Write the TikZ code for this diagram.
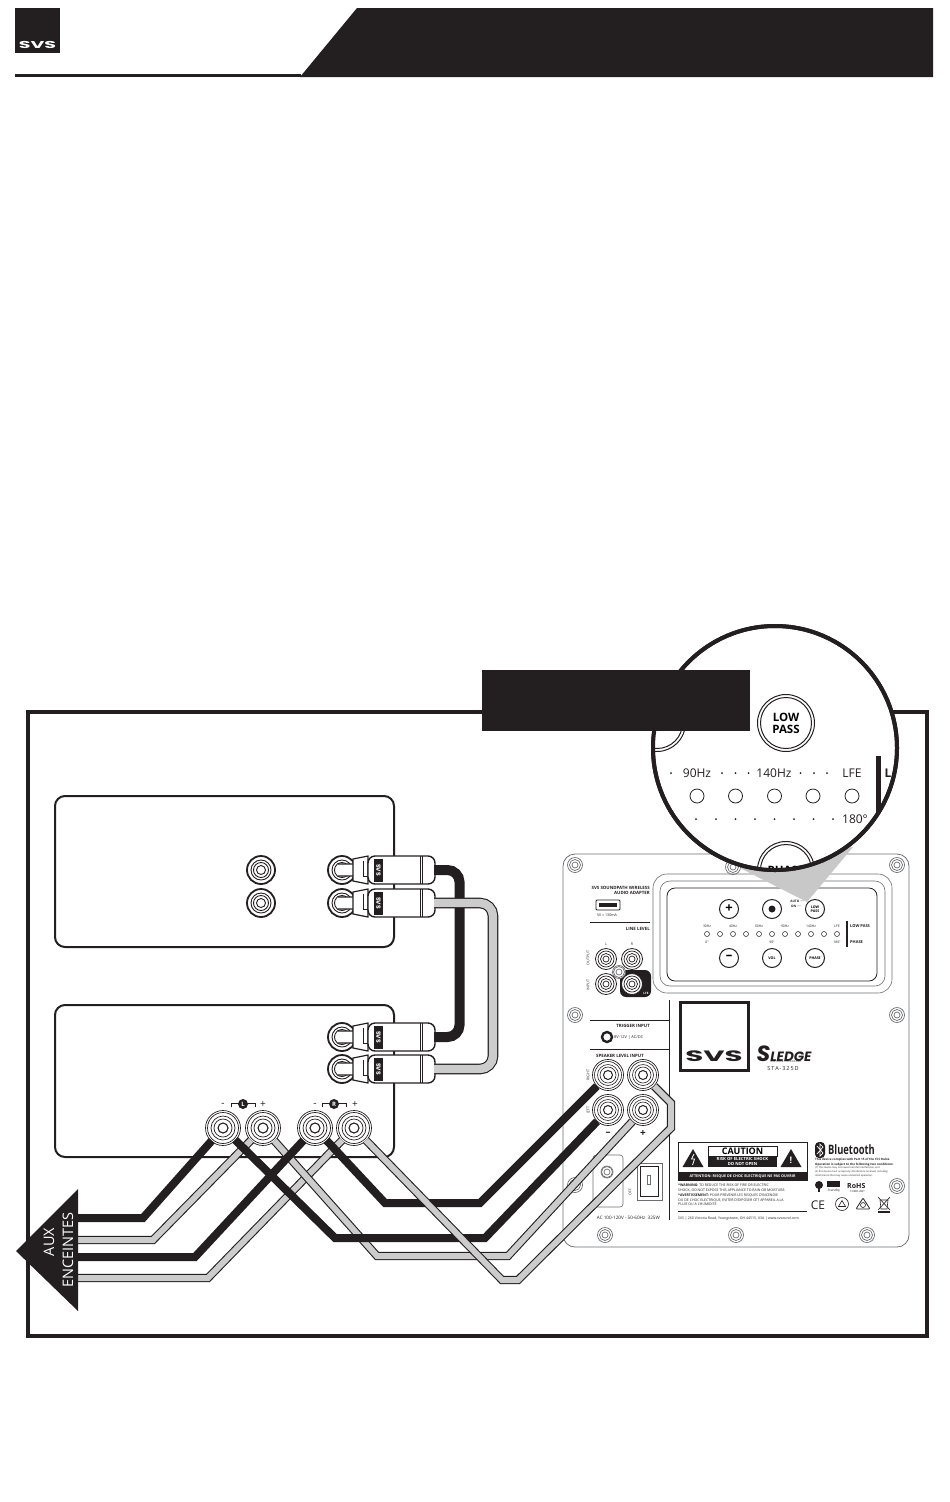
\documentclass[tikz,border=0pt]{standalone}
\usepackage{fontspec}
\setmainfont{Open Sans}
\newfontfamily\logofont{Poppins}
\definecolor{ink}{HTML}{231F20}
\definecolor{cablegray}{HTML}{CCCCCC}
\definecolor{wedgegray}{HTML}{C8C8C8}
\definecolor{panelline}{HTML}{6D6E71}
\tikzset{
    lbl/.style={inner sep=0pt, text=ink, font=\fontsize{#1}{#1}\selectfont},
    blbl/.style={inner sep=0pt, text=ink, font=\fontsize{#1}{#1}\selectfont\bfseries},
    rcaplug/.pic={
        \draw[ink, line width=1.2pt, fill=white, rounded corners=3pt] (-5,-6) -- (14,-6) -- (14,6) -- (-5,6);
        \draw[ink, line width=1.2pt, fill=white] (11,-11) -- (26,-14) -- (26,14) -- (11,11) -- cycle;
        \draw[ink, line width=.8pt] (21,-9) -- (21,6) -- (26,6);
        \draw[ink, line width=1.4pt, fill=white, rounded corners=7pt] (26,-14) -- (93,-14) -- (93,14) -- (26,14) -- cycle;
        \draw[ink, line width=.8pt] (78,-14) -- (78,14) (80,-14) -- (80,14);
        \node[tagbox, rotate=-90] (-tag) at (36.5,0) {SVS};
        \coordinate (-tail) at (92,0);
    }
}
\begin{document}
\begin{tikzpicture}[
    x=1pt,
    y=-1pt,
    box/.style={draw=ink, line width=2pt, rounded corners=10pt},
    tagbox/.style={fill=ink, text=white, minimum width=23pt, minimum height=9pt, inner sep=0pt,
        font=\logofont\bfseries\fontsize{6}{6}\selectfont},
    lens/.style={circle, draw=ink, line width=4pt, fill=white, minimum size=244pt, inner sep=0pt},
    jack/.style={circle, draw=ink, fill=white, line width=1.8pt, minimum size=28pt, inner sep=0pt,
        path picture={\draw[ink, line width=.9pt] (path picture bounding box.center) circle (10pt) circle (7.5pt) circle (4.5pt);}},
    smalljack/.style={circle, draw=ink, fill=white, line width=.8pt, minimum size=21pt, inner sep=0pt,
        path picture={\draw[ink, line width=.7pt] (path picture bounding box.center) circle (8pt) circle (5.5pt) circle (3pt);}},
    post/.style={circle, draw=ink, fill=white, line width=.7pt, minimum size=35pt, inner sep=0pt,
        path picture={\draw[ink, line width=.7pt] (path picture bounding box.center) circle (15.5pt) circle (12pt) circle (9pt);
            \draw[ink, line width=1.1pt] (path picture bounding box.center) circle (5pt);}},
    smallpost/.style={post, minimum size=31pt,
        path picture={\draw[ink, line width=.6pt] (path picture bounding box.center) circle (13.5pt) circle (10.5pt) circle (8pt);
            \draw[ink, line width=1pt] (path picture bounding box.center) circle (4.5pt);}},
    screw/.style={circle, draw=panelline, fill=white, line width=.7pt, minimum size=15pt, inner sep=0pt,
        path picture={\draw[panelline, line width=.7pt] (path picture bounding box.center) circle (5.5pt) circle (3pt);}},
    btn/.style={circle, draw=ink, fill=white, line width=1pt, minimum size=19pt, inner sep=0pt,
        font=\bfseries\fontsize{3.6}{3.8}\selectfont, align=center},
    bigbtn/.style={circle, draw=ink, fill=white, line width=1pt, minimum size=57pt, inner sep=0pt,
        font=\bfseries\fontsize{11.5}{12}\selectfont, align=center,
        path picture={\draw[ink, line width=1pt] (path picture bounding box.center) circle (25.5pt);}},
    led/.style={circle, draw=ink, line width=.5pt, fill=white, minimum size=5pt, inner sep=0pt},
    bigled/.style={circle, draw=ink, line width=.8pt, fill=white, minimum size=14pt, inner sep=0pt},
    blackcable/.style={draw=ink, line width=8pt},
    graycable/.style={draw=ink, line width=1.1pt, double=cablegray, double distance=6pt},
    stubend/.style={shorten <=-1pt}
]
    \useasboundingbox (0,0) rectangle (950,1502);

    % --- Header ---
    \fill[ink] (15,8) rectangle (60,53);
    \node[blbl=12, text=white, xscale=1.9, font=\logofont\bfseries\fontsize{10}{10}\selectfont] (logotext) at (37.5,45) {SVS};
    \fill[ink] (300,77) -- (357,8) -- (933,8) -- (933,77) -- cycle;
    \fill[ink] (15,74) rectangle (301,77);

    % --- Frame ---
    \draw[ink, line width=4pt] (28,712) rectangle (927,1336);

    % --- Speaker boxes ---
    \draw[box] (55,796) rectangle (394,947);
    \draw[box] (55,1005) rectangle (394,1157);

    % --- Subwoofer panel ---
    \draw[panelline, line width=.8pt, rounded corners=12pt] (563,854) rectangle (909,1247);
    \draw[ink, line width=1pt] (669,1000) -- (669,1220);
    \draw[ink, line width=.8pt] (590,1020) -- (669,1020);
    \draw[ink, line width=.8pt] (590,1049) -- (669,1049);
    \draw[ink, line width=.8pt] (590,922) -- (650,922);
    \node[screw] (screwa) at (575,865) {};
    \node[screw] (screwb) at (733,867) {};
    \node[screw] (screwc) at (897,865) {};
    \node[screw] (screwd) at (575,1015) {};
    \node[screw] (screwe) at (897,1015) {};
    \node[screw] (screwf) at (575,1185) {};
    \node[screw] (screwg) at (897,1186) {};
    \node[screw] (screwh) at (605,1235) {};
    \node[screw] (screwi) at (736,1235) {};
    \node[screw] (screwj) at (867,1235) {};

    % --- Control panel ---
    \draw[panelline, line width=.6pt, rounded corners=14pt] (653,874) rectangle (892,993);
    \draw[panelline, line width=.6pt, rounded corners=10pt] (660,881) rectangle (885,986);
    \draw[ink, line width=.8pt, rounded corners=8pt] (667,888) rectangle (877,981);
    \fill[wedgegray] (740,868) -- (807,902) -- (853,847) -- cycle;
    \node[btn, font=\bfseries\fontsize{13}{13}\selectfont] (plus) at (729,909) {+};
    \node[btn] (dotbtn) at (772,909) {};
    \fill[ink] (dotbtn.center) circle (3.5);
    \node[btn] (lowpass) at (815,909) {LOW\\PASS};
    \node[btn, font=\bfseries\fontsize{13}{13}\selectfont] (minus) at (729,958) {\raisebox{.5pt}{–}};
    \node[btn] (vol) at (772,958) {VOL};
    \node[btn] (phase) at (815,958) {PHASE};
    \node[blbl=3.2, anchor=east] (autotxt) at (804,901) {AUTO ····};
    \node[blbl=3.2, anchor=east] (ontxt) at (801,906) {ON ····};
    \node[lbl=3.4] (hza) at (707,926) {30Hz};
    \node[lbl=3.4] (hzb) at (733,926) {40Hz};
    \node[lbl=3.4] (hzc) at (759,926) {60Hz};
    \node[lbl=3.4] (hzd) at (785,926) {90Hz};
    \node[lbl=3.4] (hze) at (811,926) {140Hz};
    \node[lbl=3.4] (hzf) at (837,926) {LFE};
    \node[led] (leda) at (707,934) {};
    \node[led] (ledb) at (720,934) {};
    \node[led] (ledc) at (733,934) {};
    \node[led] (ledd) at (746,934) {};
    \node[led] (lede) at (759,934) {};
    \node[led] (ledf) at (772,934) {};
    \node[led] (ledg) at (785,934) {};
    \node[led] (ledh) at (798,934) {};
    \node[led] (ledi) at (811,934) {};
    \node[led] (ledj) at (824,934) {};
    \node[led] (ledk) at (837,934) {};
    \node[lbl=3.4] (pha) at (707,942) {0°};
    \node[lbl=3.4] (phb) at (772,942) {90°};
    \node[lbl=3.4] (phc) at (837,942) {180°};
    \draw[ink, line width=1.6pt] (847,921) -- (847,947);
    \node[blbl=4, anchor=west] (lowtxt) at (850,926) {LOW PASS};
    \node[blbl=4, anchor=west] (phtxt) at (850,942) {PHASE};

    % --- Left column of the panel ---
    \node[blbl=4.4, anchor=east, align=right] (adapter) at (650,890.5) {SVS SOUNDPATH WIRELESS\\AUDIO ADAPTER};
    \draw[ink, line width=.8pt, rounded corners=1pt, fill=white] (596,900) rectangle (620,910);
    \fill[ink] (599,903) rectangle (617,907);
    \node[lbl=3.6] (usbtxt) at (607,915) {5V = 130mA};
    \node[blbl=4.4, anchor=east] (linelevel) at (650,929) {LINE LEVEL};
    \node[lbl=3.6] (ltxt) at (606,944) {L};
    \node[lbl=3.6] (rtxt) at (632,944) {R};
    \node[lbl=3.6, rotate=90] (outtxt) at (588,958) {OUTPUT};
    \node[lbl=3.6, rotate=90] (intxt) at (588,985) {INPUT};
    \fill[ink, rounded corners=6pt] (620,970) rectangle (651,997);
    \node[screw, minimum size=13pt] (screwk) at (619,972) {};
    \node[smalljack] (outl) at (606,959) {};
    \node[smalljack] (outr) at (632,959) {};
    \node[smalljack] (inl) at (606,984) {};
    \node[smalljack] (lfe) at (632,984) {};
    \node[blbl=3, text=white] (lfetxt) at (646,993) {LFE};
    \node[blbl=4.4, anchor=east] (trigger) at (650,1026) {TRIGGER INPUT};
    \node[circle, draw=ink, line width=2.4pt, fill=white, minimum size=10pt, inner sep=0pt] (trigjack) at (607,1037) {};
    \node[lbl=4, anchor=west] (trigtxt) at (614,1037) {8V-12V | AC/DC};
    \node[blbl=4.4] (spktxt) at (620,1056) {SPEAKER LEVEL INPUT};
    \node[lbl=3.6, rotate=90] (righttxt) at (588,1075) {RIGHT};
    \node[lbl=3.6, rotate=90] (lefttxt) at (588,1110) {LEFT};
    \node[blbl=10] (minustxt) at (608,1134) {–};
    \node[blbl=10] (plustxt) at (643,1134) {+};
    \draw[panelline, line width=.6pt, rounded corners=3pt] (593,1155) rectangle (623,1207);
    \node[screw, minimum size=12pt] (inlet) at (607,1172) {};
    \draw[panelline, line width=.6pt] (637,1163) rectangle (662,1200);
    \draw[ink, line width=.9pt] (640,1166) rectangle (658,1196);
    \draw[panelline, line width=.6pt] (647,1175) rectangle (650,1184);
    \node[lbl=3.6, rotate=90] (offtxt) at (630,1192) {OFF};
    \node[lbl=4.6, anchor=east] (mains) at (660,1218) {AC 100-120V - 50-60Hz~~325W};

    % --- Logo ---
    \draw[ink, line width=3pt] (680,1002) rectangle (748,1070);
    \node[blbl=12, xscale=1.95, font=\logofont\bfseries\fontsize{15}{15}\selectfont] (bigsvs) at (714,1056) {SVS};
    \node[blbl=12, font=\logofont\bfseries\itshape\fontsize{13.5}{13.5}\selectfont] (sledge) at (784,1053.5) {{\fontsize{22}{22}\selectfont S}LEDGE};
    \node[lbl=2.6] (amptxt) at (786,1061.5) {AMPLIFIER TECHNOLOGY};
    \node[lbl=5.5] (stabel) at (783,1069) {S\,T\,A\,-\,3\,2\,5\,D};

    % --- Caution block ---
    \draw[ink, line width=1pt] (678,1142) rectangle (807,1180);
    \fill[ink] (678,1172) rectangle (807,1180);
    \node[draw=ink, line width=.7pt, minimum width=69pt, minimum height=10pt, inner sep=0pt,
        font=\bfseries\fontsize{9}{9}\selectfont] (cautionhead) at (742.5,1151) {CAUTION};
    \node[fill=ink, text=white, minimum width=69pt, minimum height=11pt, inner sep=0pt, align=center,
        font=\bfseries\fontsize{4.2}{4.8}\selectfont] (cautionsub) at (742.5,1161.5) {RISK OF ELECTRIC SHOCK\\DO NOT OPEN};
    \fill[ink] (693,1149) -- (703.5,1167) -- (682.5,1167) -- cycle;
    \draw[white, line width=.8pt] (694,1154) -- (691.5,1159) -- (694.5,1159) -- (692.5,1165);
    \fill[ink] (791,1149) -- (801.5,1167) -- (780.5,1167) -- cycle;
    \node[blbl=9, text=white] (bang) at (791,1160.5) {!};
    \node[blbl=3.7, text=white] (attn) at (742.5,1176) {ATTENTION: RISQUE DE CHOC ELECTRIQUE NE PAS OUVRIR};
    \node[lbl=3.5, anchor=north west, align=left] (warn) at (678,1184)
        {\textbf{*WARNING:} TO REDUCE THE RISK OF FIRE OR ELECTRIC\\[1pt]SHOCK, DO NOT EXPOSE THIS APPLIANCE TO RAIN OR MOISTURE.};
    \node[lbl=3.5, anchor=north west, align=left] (avert) at (678,1194)
        {\textbf{*AVERTISSEMENT:} POUR PREVENIR LES RISQUES D'INCENDIE\\[.8pt]OU DE CHOC ELECTRIQUE, EVITER D'EXPOSER CET APPAREIL A LA\\[.8pt]PLUIE OU A L'HUMIDITE.};
    \draw[ink, line width=.6pt] (678,1211) -- (807,1211);
    \node[lbl=3.5, anchor=west] (addr) at (678,1218.5) {SVS | 260 Victoria Road, Youngstown, OH 44515, USA | www.svsound.com};

    % --- Bluetooth and marks ---
    \fill[ink, rounded corners=4pt] (815,1142) rectangle (825,1158);
    \draw[white, line width=.7pt] (817,1146) -- (823,1153) -- (820,1156) -- (820,1144) -- (823,1147) -- (817,1154);
    \node[blbl=13, anchor=west, xscale=.72] (bluetxt) at (828,1150) {Bluetooth};
    \node[blbl=3, anchor=north west, align=left] (fcca) at (815,1158)
        {This device complies with Part 15 of the FCC Rules.\\[.8pt]Operation is subject to the following two conditions:};
    \node[lbl=2.5, anchor=north west, align=left] (fccb) at (815,1166)
        {(1) This device may not cause harmful interference, and\\[.6pt](2) this device must accept any interference received, including\\[.6pt]interference that may cause undesired operation.};
    \fill[ink] (819,1185) circle (4);
    \fill[ink] (818,1188) rectangle (820,1192);
    \fill[ink] (827,1181) rectangle (840,1187);
    \node[lbl=3.2] (standby) at (834,1190.5) {Standby};
    \node[blbl=7, anchor=west] (rohs) at (847,1186) {RoHS};
    \node[lbl=2.6, anchor=west] (compliant) at (850,1191.5) {COMPLIANT};
    \node[lbl=12] (cemark) at (818,1205) {CE};
    \draw[ink, line width=.6pt] (842,1204) circle (6.5);
    \draw[ink, line width=.6pt] (838.5,1206.5) -- (842,1200.5) -- (845.5,1206.5) -- cycle;
    \draw[ink, line width=.8pt, rounded corners=1pt] (856,1209) -- (863,1198) -- (870,1209) -- cycle;
    \draw[ink, line width=.6pt] (863,1205) circle (2.5);
    \draw[ink, line width=.6pt] (880,1200) -- (888,1200) -- (887,1209) -- (881,1209) -- cycle;
    \draw[ink, line width=.6pt] (878,1197) -- (890,1210) (890,1197) -- (878,1210);
    \fill[ink] (878,1211) rectangle (890,1212.5);

    % --- Jacks and posts ---
    \node[jack] (spkjacka) at (261,870) {};
    \node[jack] (spkjackb) at (261,903) {};
    \node[jack] (spkjackc) at (342,870) {};
    \node[jack] (spkjackd) at (342,903) {};
    \node[jack] (spkjacke) at (342,1037) {};
    \node[jack] (spkjackf) at (342,1069) {};
    \node[post] (lminus) at (223,1128) {};
    \node[post] (lplus) at (263,1128) {};
    \node[post] (rminus) at (315,1128) {};
    \node[post] (rplus) at (354,1128) {};
    \node[smallpost] (subrm) at (608,1075) {};
    \node[smallpost] (subrp) at (643,1075) {};
    \node[smallpost] (sublm) at (608,1110) {};
    \node[smallpost] (sublp) at (643,1110) {};

    % --- Polarity marks ---
    \node[lbl=10] (lminustxt) at (223,1104.5) {-};
    \node[lbl=10] (lplustxt) at (263,1104.5) {+};
    \node[lbl=10] (rminustxt) at (315,1104.5) {-};
    \node[lbl=10] (rplustxt) at (355,1104.5) {+};
    \draw[ink, line width=.8pt] (231,1107) -- (231,1103.5) -- (255,1103.5) -- (255,1107);
    \draw[ink, line width=.8pt] (322,1107) -- (322,1103.5) -- (346,1103.5) -- (346,1107);
    \node[circle, fill=ink, text=white, minimum size=10pt, inner sep=0pt, font=\bfseries\fontsize{6}{6}\selectfont] (lmark) at (243,1104) {L};
    \node[circle, fill=ink, text=white, minimum size=10pt, inner sep=0pt, font=\bfseries\fontsize{6}{6}\selectfont] (rmark) at (334,1104) {R};

    % --- Plugs ---
    \pic (pluga) at (342,870) {rcaplug};
    \pic (plugb) at (342,903) {rcaplug};
    \pic (plugc) at (342,1037) {rcaplug};
    \pic (plugd) at (342,1069) {rcaplug};

    % --- Cable bends ---
    \coordinate (linka) at (459.5,870);
    \coordinate (linkb) at (459.5,1037);
    \coordinate (linkc) at (493,903);
    \coordinate (linkd) at (493,1069);
    \coordinate (auxa) at (78,1218);
    \coordinate (auxb) at (78,1240);
    \coordinate (auxc) at (78,1257);
    \coordinate (auxd) at (78,1278);
    \coordinate (bendaa) at (143,1218);
    \coordinate (bendab) at (153,1240);
    \coordinate (bendac) at (195,1257);
    \coordinate (bendad) at (208,1278);
    \coordinate (bendba) at (385,1203);
    \coordinate (bendbb) at (480,1203);
    \coordinate (bendca) at (335,1238);
    \coordinate (bendcb) at (485,1238);
    \coordinate (bendda) at (377,1256);
    \coordinate (benddb) at (508,1256);
    \coordinate (bendea) at (502,1280);
    \coordinate (bendeb) at (518,1280);
    \coordinate (bendec) at (671,1128);
    \coordinate (bended) at (671,1103);

    % --- Cables ---
    \draw[blackcable, line width=10pt, rounded corners=12pt] (pluga-tail) -- (linka) -- (linkb) -- (plugc-tail);
    \draw[graycable, double distance=8.4pt, rounded corners=13pt] (plugb-tail) -- (linkc) -- (linkd) -- (plugd-tail);
    \draw[graycable, stubend] (lplus) -- (bendab) -- (auxb);
    \draw[graycable, stubend] (rplus) -- (bendad) -- (auxd);
    \draw[graycable, stubend] (lplus) -- (bendda) -- (benddb) -- (sublp);
    \draw[blackcable, stubend] (lminus) -- (bendaa) -- (auxa);
    \draw[blackcable, stubend] (rminus) -- (bendac) -- (auxc);
    \draw[blackcable, stubend] (rminus) -- (bendba) -- (bendbb) -- (subrm);
    \draw[blackcable, stubend] (lminus) -- (bendca) -- (bendcb) -- (sublm);
    \draw[graycable, stubend] (rplus) -- (bendea) -- (bendeb) -- (bendec) -- (bended) -- (subrp);

    % --- Aux arrow ---
    \fill[ink] (78,1189) -- (78,1311) -- (16,1251) -- cycle;
    \node[lbl=16, text=white, rotate=90, font=\fontsize{14.5}{14.5}\selectfont] (auxtxt) at (49,1242) {AUX};
    \node[lbl=16, text=white, rotate=90, font=\fontsize{14.5}{14.5}\selectfont] (enctxt) at (68,1250) {ENCEINTES};

    % --- Magnifier ---
    \node[lens] (zoomlens) at (775,748) {};
    \begin{scope}
        \clip (775,748) circle (121);
        \node[bigbtn] (bigdot) at (657,723) {};
        \node[bigbtn] (biglow) at (786,723) {LOW\\PASS};
        \node[bigbtn] (bigphase) at (786,870) {PHASE};
        \node[lbl=12] (hzbiga) at (697,773) {90Hz};
        \node[lbl=12] (hzbigb) at (774,773) {140Hz};
        \node[lbl=12] (hzbigc) at (852,773) {LFE};
        \fill[ink] (671,773) circle (1) (722,773) circle (1) (735.5,773) circle (1) (748.5,773) circle (1)
            (800.5,773) circle (1) (814,773) circle (1) (827,773) circle (1);
        \node[bigled] (ledbiga) at (697,796) {};
        \node[bigled] (ledbigb) at (735.5,796) {};
        \node[bigled] (ledbigc) at (774.5,796) {};
        \node[bigled] (ledbigd) at (813,796) {};
        \node[bigled] (ledbige) at (852,796) {};
        \fill[ink] (696,819) circle (1) (716,819) circle (1) (735.5,819) circle (1) (755,819) circle (1)
            (774.5,819) circle (1) (794,819) circle (1) (813.5,819) circle (1) (833,819) circle (1);
        \node[lbl=12] (phbig) at (855,819) {180°};
        \fill[ink] (875.5,756) rectangle (881,840);
        \node[blbl=12] (lbig) at (888,773) {L};
    \end{scope}
    \draw[ink, line width=4pt] (zoomlens.center) circle (122);

    % --- Title bar ---
    \fill[ink] (482,670) rectangle (750,731);
\end{tikzpicture}
\end{document}
